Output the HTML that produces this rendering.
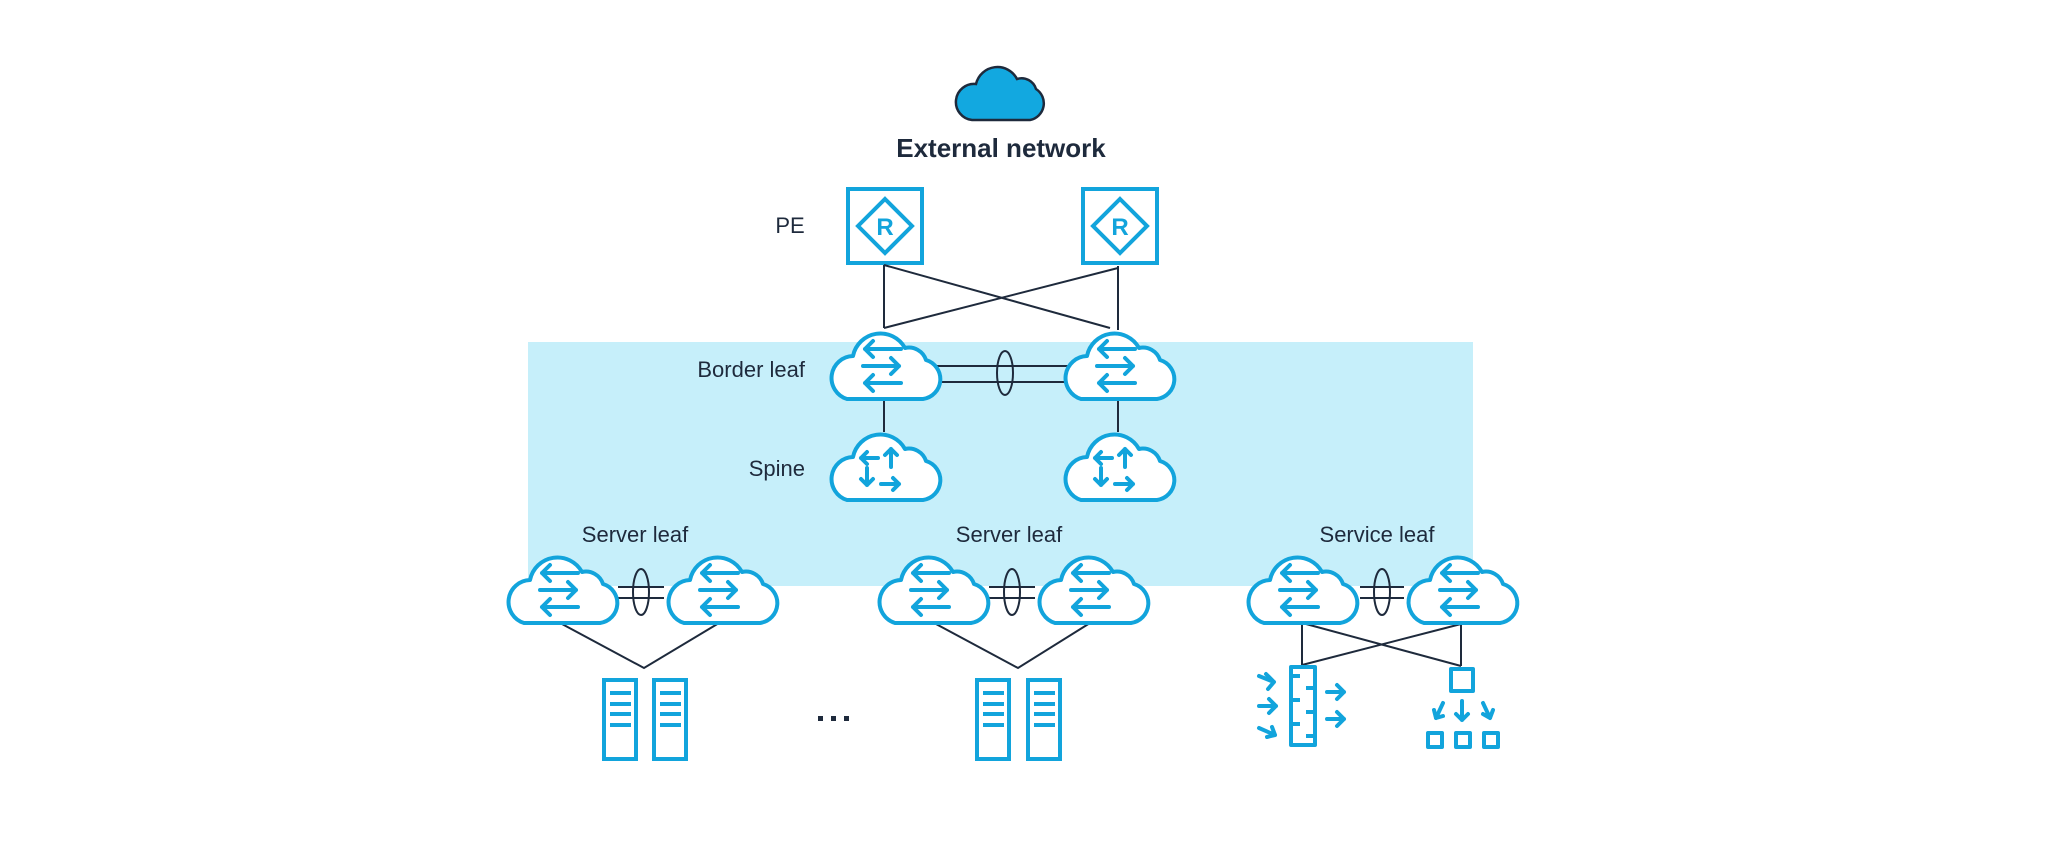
<!DOCTYPE html>
<html><head><meta charset="utf-8"><style>
html,body{margin:0;padding:0;background:#fff;}
svg{display:block}
text{font-family:"Liberation Sans",sans-serif;fill:#1e2a3c}
</style></head><body>
<svg width="2060" height="848" viewBox="0 0 2060 848" xmlns="http://www.w3.org/2000/svg">
<defs>
<g id="cl"><path d="M22,72 H98 A20,20 0 0 0 101,33 A18,18 0 0 0 80,21 A28,28 0 0 0 28,29 A22,22 0 0 0 22,72 Z" fill="#fff" stroke="#12a4dc" stroke-width="4" stroke-linejoin="round"/></g>
<g id="leaf"><use href="#cl"/>
<g stroke="#12a4dc" stroke-width="4" fill="none" stroke-linecap="round" stroke-linejoin="round">
<path d="M40,22 H76 M48,14 L40,22 L48,30"/>
<path d="M38,39 H74 M66,31 L74,39 L66,47"/>
<path d="M40,56 H76 M48,48 L40,56 L48,64"/>
</g></g>
<g id="spine"><use href="#cl"/>
<g stroke="#12a4dc" stroke-width="4" fill="none" stroke-linecap="round" stroke-linejoin="round">
<path d="M36,30 H53 M42,24 L36,30 L42,36"/>
<path d="M66,39 V21 M60,27 L66,21 L72,27"/>
<path d="M42,40 V57 M36,51 L42,57 L48,51"/>
<path d="M56,56 H74 M68,50 L74,56 L68,62"/>
</g></g>
<g id="srv" fill="none" stroke="#12a4dc" stroke-width="4">
<rect x="2" y="2" width="32" height="79"/>
<path d="M8,15 H29 M8,26 H29 M8,36 H29 M8,47 H29"/>
</g>
</defs>

<rect x="528" y="342" width="945" height="244" fill="#c6effa"/>

<!-- external cloud -->
<path d="M972,120 H1030 A17,17 0 0 0 1036,89 A15,15 0 0 0 1017,79 A22,22 0 0 0 976,84 A18,18 0 0 0 972,120 Z" fill="#12a8e0" stroke="#1e2a3c" stroke-width="2.5"/>
<text x="1001" y="157" font-size="26" font-weight="bold" text-anchor="middle">External network</text>

<!-- PE -->
<text x="790" y="233" font-size="22" text-anchor="middle">PE</text>
<g fill="none" stroke="#12a4dc" stroke-width="4">
<rect x="848" y="189" width="74" height="74"/>
<rect x="1083" y="189" width="74" height="74"/>
<path d="M885,199 L912,226 L885,253 L858,226 Z"/>
<path d="M1120,199 L1147,226 L1120,253 L1093,226 Z"/>
</g>
<text x="885" y="235" font-size="24" font-weight="bold" text-anchor="middle" style="fill:#12a4dc">R</text>
<text x="1120" y="235" font-size="24" font-weight="bold" text-anchor="middle" style="fill:#12a4dc">R</text>

<g stroke="#1e2a3c" stroke-width="2" fill="none">
<path d="M884,265 V328 M1118,266 V330 M884,265 L1110,328 M1118,268 L884,328"/>
<path d="M884,398 V432 M1118,398 V432"/>
<path d="M930,366 H1070 M930,382 H1070"/>
<ellipse cx="1005" cy="373" rx="8" ry="22"/>
<path d="M618,587 H664 M618,598 H664"/><ellipse cx="641" cy="592" rx="8" ry="23"/>
<path d="M989,587 H1035 M989,598 H1035"/><ellipse cx="1012" cy="592" rx="8" ry="23"/>
<path d="M1360,587 H1404 M1360,598 H1404"/><ellipse cx="1382" cy="592" rx="8" ry="23"/>
<path d="M562,624 L644,668 L719,623"/>
<path d="M936,624 L1018,668 L1090,623"/>
<path d="M1302,624 V665 M1461,624 V666 M1306,624 L1461,666 M1461,624 L1302,665"/>
</g>

<text x="805" y="377" font-size="22" text-anchor="end">Border leaf</text>
<text x="805" y="476" font-size="22" text-anchor="end">Spine</text>
<text x="635" y="542" font-size="22" text-anchor="middle">Server leaf</text>
<text x="1009" y="542" font-size="22" text-anchor="middle">Server leaf</text>
<text x="1377" y="542" font-size="22" text-anchor="middle">Service leaf</text>

<use href="#leaf" x="825" y="327"/>
<use href="#leaf" x="1059" y="327"/>
<use href="#spine" x="825" y="428"/>
<use href="#spine" x="1059" y="428"/>
<use href="#leaf" x="502" y="551"/>
<use href="#leaf" x="662" y="551"/>
<use href="#leaf" x="873" y="551"/>
<use href="#leaf" x="1033" y="551"/>
<use href="#leaf" x="1242" y="551"/>
<use href="#leaf" x="1402" y="551"/>

<use href="#srv" x="602" y="678"/>
<use href="#srv" x="652" y="678"/>
<use href="#srv" x="975" y="678"/>
<use href="#srv" x="1026" y="678"/>

<g fill="#1e2a3c"><rect x="818" y="716" width="5" height="5"/><rect x="831" y="716" width="5" height="5"/><rect x="844" y="716" width="5" height="5"/></g>

<!-- firewall -->
<g fill="none" stroke="#12a4dc" stroke-width="4" stroke-linecap="round" stroke-linejoin="round">
<rect x="1291" y="667" width="24" height="78" stroke-linecap="butt"/>
<path d="M1293,676 H1300 M1313,688 H1306 M1293,700 H1300 M1313,712 H1306 M1293,724 H1300 M1313,736 H1306" stroke-linecap="butt"/>
<path d="M1259,676 L1274,682 M1266,674 L1274,682 L1268,689"/>
<path d="M1259,706 H1276 M1269,699 L1276,706 L1269,713"/>
<path d="M1259,728 L1275,735 M1267,737 L1275,735 L1272,727"/>
<path d="M1327,692 H1344 M1337,685 L1344,692 L1337,699"/>
<path d="M1327,719 H1344 M1337,712 L1344,719 L1337,726"/>
<!-- LB -->
<rect x="1451" y="669" width="22" height="22" stroke-linecap="butt"/>
<rect x="1428" y="733" width="14" height="14" stroke-linecap="butt"/>
<rect x="1456" y="733" width="14" height="14" stroke-linecap="butt"/>
<rect x="1484" y="733" width="14" height="14" stroke-linecap="butt"/>
<path d="M1462,701 V720 M1456,714 L1462,720 L1468,714"/>
<path d="M1443,703 L1436,718 M1434,710 L1436,718 L1443,716"/>
<path d="M1483,703 L1490,718 M1483,714 L1490,718 L1493,710"/>
</g>
</svg>
</body></html>
